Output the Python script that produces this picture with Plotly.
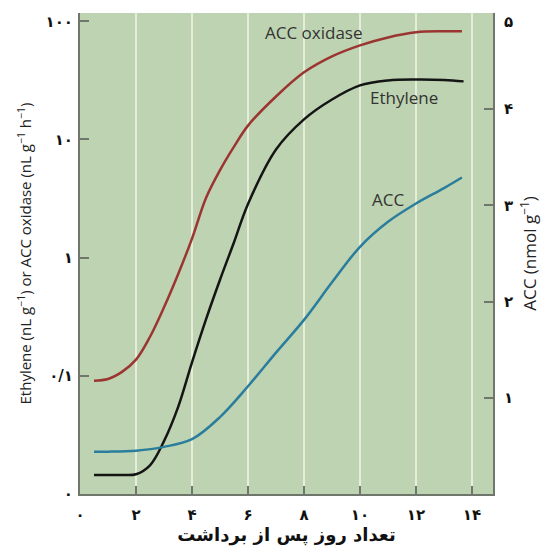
import plotly.graph_objects as go

# Days after harvest
days_oxidase = [0.5, 1.0, 1.5, 2.0, 2.5, 3.0, 3.5, 4.0, 4.5, 5.0, 5.5, 6.0, 7.0, 8.0, 9.0, 10.0, 11.0, 12.0, 13.0, 13.64]
acc_oxidase = [0.091, 0.094, 0.108, 0.137, 0.214, 0.38, 0.72, 1.45, 3.2, 5.5, 8.7, 13.1, 23.1, 37.0, 50.5, 62.6, 73.0, 80.7, 82.3, 82.3]

days_ethylene = [0.5, 1.0, 1.5, 2.0, 2.5, 3.0, 3.5, 4.0, 4.5, 5.0, 5.5, 6.0, 7.0, 8.0, 9.0, 10.0, 11.0, 12.0, 13.0, 13.7]
ethylene = [0.0145, 0.0145, 0.0145, 0.0147, 0.0175, 0.028, 0.054, 0.13, 0.30, 0.65, 1.35, 2.85, 8.23, 14.8, 21.8, 28.7, 31.6, 32.2, 31.9, 31.0]

days_acc = [0.5, 1.0, 2.0, 3.0, 4.0, 5.0, 6.0, 7.0, 8.0, 9.0, 10.0, 11.0, 12.0, 13.0, 13.64]
acc = [0.44, 0.44, 0.45, 0.49, 0.57, 0.80, 1.12, 1.47, 1.81, 2.20, 2.57, 2.83, 3.02, 3.18, 3.29]

x_tickvals = [0, 2, 4, 6, 8, 10, 12, 14]
x_ticktext = ["۰", "۲", "۴", "۶", "۸", "۱۰", "۱۲", "۱۴"]
y_tickvals = [0.01, 0.1, 1, 10, 100]
y_ticktext = ["۰", "۰/۱", "۱", "۱۰", "۱۰۰"]
y2_tickvals = [1, 2, 3, 4, 5]
y2_ticktext = ["۱", "۲", "۳", "۴", "۵"]

x_title = "تعداد روز پس از برداشت"
y_title = "Ethylene (nL g<sup>−1</sup>) or ACC oxidase (nL g<sup>−1</sup> h<sup>−1</sup>)"
y2_title = "ACC (nmol g<sup>−1</sup>)"

fig = go.Figure()
fig.add_trace(go.Scatter(x=days_oxidase, y=acc_oxidase, mode="lines", name="ACC oxidase",
                         line=dict(color="#9b3531", width=2.5, shape="spline", smoothing=1.0)))
fig.add_trace(go.Scatter(x=days_ethylene, y=ethylene, mode="lines", name="Ethylene",
                         line=dict(color="#151515", width=2.5, shape="spline", smoothing=1.0)))
fig.add_trace(go.Scatter(x=days_acc, y=acc, mode="lines", name="ACC", yaxis="y2",
                         line=dict(color="#2a7d9c", width=2.5, shape="spline", smoothing=1.0)))

tickfont = dict(family="DejaVu Sans", size=15, color="#111111", weight="bold")
axis_line = "#6f766c"

# the top label of the right axis sits just below its tick (drawn as an annotation so it is not clipped)
y2_axis_text = y2_ticktext[:-1] + [""]

# the page body adds an 8px offset, so the figure is drawn 8px smaller
fig.update_layout(
    width=542, height=538,
    margin=dict(l=72, r=57, t=5, b=52),
    paper_bgcolor="white",
    plot_bgcolor="#bed3b1",
    showlegend=False,
    xaxis=dict(range=[0, 14.75], tickvals=x_tickvals, ticktext=x_ticktext, automargin=False,
               ticks="inside", ticklen=8, tickwidth=2, tickcolor=axis_line, ticklabelstandoff=6,
               showline=True, linecolor=axis_line, linewidth=2,
               showgrid=True, gridcolor="#e6eedb", gridwidth=2, zeroline=False,
               tickfont=tickfont,
               title=dict(text=x_title, font=dict(family="DejaVu Sans", size=18, color="#111111", weight="bold"), standoff=2)),
    yaxis=dict(type="log", range=[-2, 2.07], tickvals=y_tickvals, ticktext=y_ticktext, automargin=False,
               ticks="inside", ticklen=9, tickwidth=2, tickcolor=axis_line, ticklabelstandoff=2,
               showline=True, linecolor=axis_line, linewidth=2,
               showgrid=False, zeroline=False, tickfont=tickfont,
               title=dict(text=y_title, font=dict(family="Open Sans", size=15, color="#222222"), standoff=10)),
    yaxis2=dict(overlaying="y", side="right", range=[0, 5.0], tickvals=y2_tickvals, ticktext=y2_axis_text, automargin=False,
                ticks="inside", ticklen=9, tickwidth=2, tickcolor=axis_line, ticklabelstandoff=6,
                showline=True, linecolor=axis_line, linewidth=2,
                showgrid=False, zeroline=False, tickfont=tickfont,
                title=dict(text=y2_title, font=dict(family="Open Sans", size=17, color="#222222"), standoff=12)),
)

fig.add_annotation(x=1, y=y2_tickvals[-1], xref="paper", yref="y2", text=y2_ticktext[-1], showarrow=False,
                   xanchor="left", yanchor="top", xshift=9, yshift=2, font=tickfont)

label_font = dict(family="Open Sans", size=17, color="#333333")
fig.add_annotation(x=8.36, y=1.907, xref="x", yref="y", text="ACC oxidase", showarrow=False, font=label_font)
fig.add_annotation(x=11.57, y=1.356, xref="x", yref="y", text="Ethylene", showarrow=False, font=label_font)
fig.add_annotation(x=11.0, y=3.06, xref="x", yref="y2", text="ACC", showarrow=False, font=label_font)

fig.write_html("out.html")
